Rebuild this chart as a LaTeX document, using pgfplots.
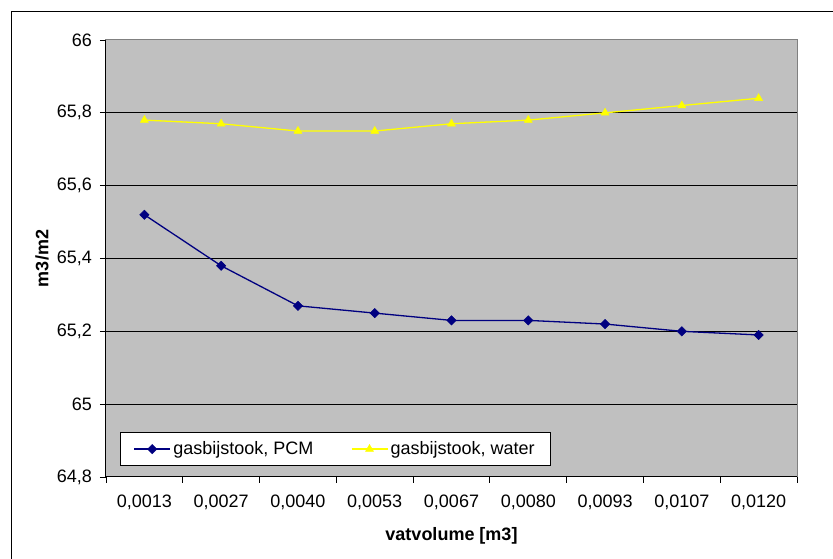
\documentclass[border=0pt]{standalone}
\usepackage{pgfplots}
\pgfplotsset{compat=1.18}
\usepackage{fontspec}
\setmainfont{Liberation Sans}

\definecolor{plotgray}{HTML}{C0C0C0}
\definecolor{framegray}{HTML}{808080}
\definecolor{pcmblue}{HTML}{000080}
\definecolor{wateryellow}{HTML}{FFFF00}

\newcommand{\chartfont}{\fontsize{18bp}{21bp}\selectfont}

\begin{document}
\begin{tikzpicture}[x=1bp,y=1bp]
\chartfont
\begin{axis}[
  at={(0,0)}, anchor=south west,
  scale only axis,
  width=691bp, height=437bp,
  xmin=0, xmax=9,
  ymin=64.8, ymax=66,
  xtick={0,1,2,3,4,5,6,7,8,9},
  x tick label as interval,
  xticklabels={{0,0013},{0,0027},{0,0040},{0,0053},{0,0067},{0,0080},{0,0093},{0,0107},{0,0120}},
  ytick={64.8,65,65.2,65.4,65.6,65.8,66},
  yticklabels={{64,8},{65},{65,2},{65,4},{65,6},{65,8},{66}},
  tick pos=left,
  tick align=outside,
  major tick length=6bp,
  tick style={black, line width=0.8bp},
  ymajorgrids,
  major grid style={black, line width=1bp},
  axis line style={framegray, line width=1bp},
  axis background/.style={fill=plotgray},
  ticklabel style={font=\chartfont},
  xticklabel style={yshift=-6bp},
  yticklabel style={xshift=-2bp},
  xlabel={\textbf{vatvolume [m3]}},
  ylabel={\textbf{m3/m2}},
  label style={font=\chartfont},
  every axis x label/.style={at={(axis description cs:0.5,0)}, yshift=-59bp, anchor=center},
  every axis y label/.style={at={(axis description cs:0,0.5)}, xshift=-64bp, rotate=90, anchor=center},
  legend columns=2,
  legend style={
    at={(axis description cs:0.0203,0.0252)}, anchor=south west,
    draw=black, line width=1bp, fill=white,
    font=\chartfont,
    inner xsep=13bp, inner ysep=6.5bp,
    nodes={inner xsep=2.5bp},
    /tikz/every even column/.append style={column sep=35bp},
  },
  legend cell align=left,
  legend image code/.code={%
    \draw[#1, mark repeat=2, mark phase=2]
      plot coordinates {(0bp,0bp) (18bp,0bp) (36bp,0bp)};},
  clip=false,
]
% gas consumption with PCM buffer
\addplot[pcmblue, line width=1.3bp, mark=square*, mark size=3.3bp,
  mark options={rotate=45, fill=pcmblue, draw=pcmblue, line width=0.5bp}]
  coordinates {
    (0.5,65.52) (1.5,65.38) (2.5,65.27) (3.5,65.25) (4.5,65.23)
    (5.5,65.23) (6.5,65.22) (7.5,65.20) (8.5,65.19)
  };
\addlegendentry{gasbijstook, PCM}
% gas consumption with water buffer
\addplot[wateryellow, line width=1.3bp, mark=triangle*, mark size=4.6bp,
  mark options={fill=wateryellow, draw=wateryellow, line width=0.5bp}]
  coordinates {
    (0.5,65.78) (1.5,65.77) (2.5,65.75) (3.5,65.75) (4.5,65.77)
    (5.5,65.78) (6.5,65.80) (7.5,65.82) (8.5,65.84)
  };
\addlegendentry{gasbijstook, water}
% left and bottom axis lines in black
\draw[black, line width=1bp] (rel axis cs:0,1) -- (rel axis cs:0,0) -- (rel axis cs:1,0);
\end{axis}
% chart frame
\draw[black, line width=1bp] (-94,-90) -- (-94,465) -- (735,465);
\pgfresetboundingbox
\path (-106,-82) rectangle (727,477);
\end{tikzpicture}
\end{document}
